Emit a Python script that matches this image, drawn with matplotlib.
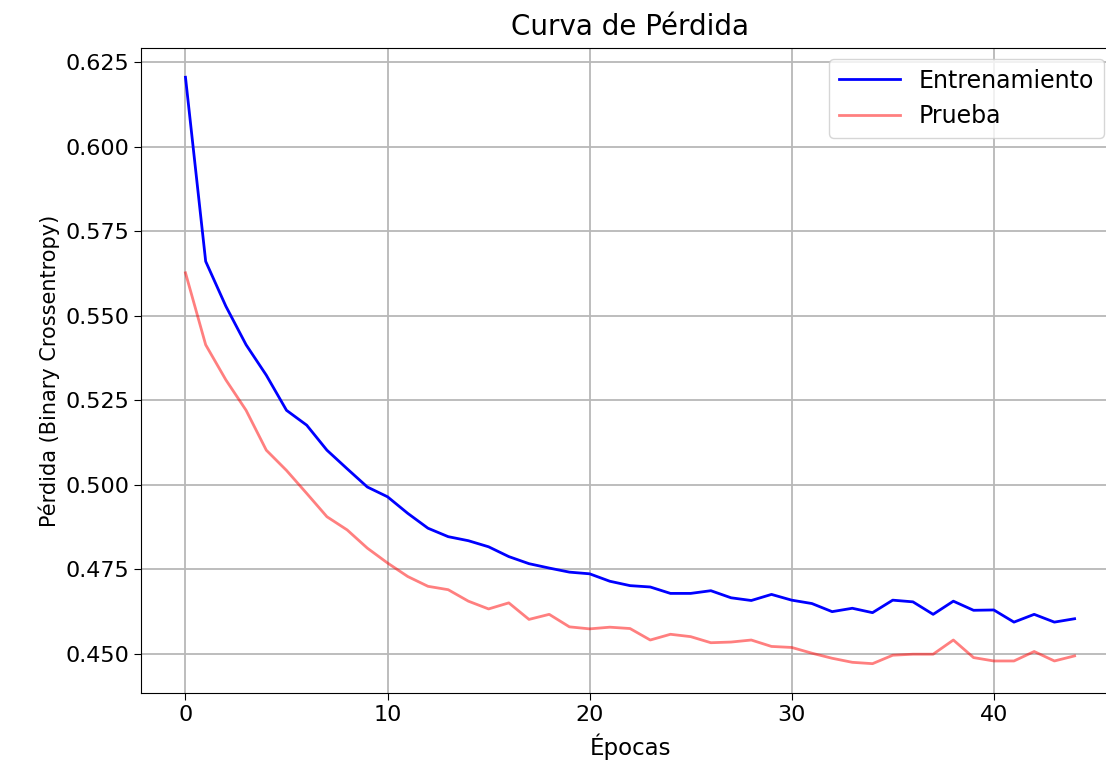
import matplotlib
matplotlib.use("Agg")
import matplotlib.pyplot as plt
import numpy as np

epochs = list(range(45))
train_loss = [0.6206, 0.5661, 0.5528, 0.5414, 0.5324, 0.5220, 0.5176, 0.5102, 0.5047, 0.4993,
              0.4964, 0.4915, 0.4871, 0.4846, 0.4834, 0.4816, 0.4787, 0.4766, 0.4753, 0.4741,
              0.4736, 0.4714, 0.4701, 0.4697, 0.4678, 0.4678, 0.4686, 0.4665, 0.4657, 0.4675,
              0.4658, 0.4648, 0.4624, 0.4634, 0.4621, 0.4658, 0.4653, 0.4616, 0.4655, 0.4628,
              0.4629, 0.4593, 0.4616, 0.4593, 0.4603]
test_loss = [0.5627, 0.5414, 0.5310, 0.5220, 0.5102, 0.5042, 0.4974, 0.4905, 0.4866, 0.4812,
             0.4768, 0.4728, 0.4699, 0.4689, 0.4655, 0.4632, 0.4650, 0.4601, 0.4616, 0.4579,
             0.4573, 0.4578, 0.4574, 0.4540, 0.4557, 0.4550, 0.4532, 0.4534, 0.4540, 0.4521,
             0.4518, 0.4501, 0.4486, 0.4474, 0.4470, 0.4495, 0.4498, 0.4498, 0.4540, 0.4488,
             0.4478, 0.4478, 0.4506, 0.4478, 0.4493]

title = "Curva de Pérdida"
xlabel = "Épocas"
ylabel = "Pérdida (Binary Crossentropy)"
labels = ["Entrenamiento", "Prueba"]

fig = plt.figure(figsize=(11.06, 7.67), dpi=100)
# the reference is cropped on the right: the axes extend slightly past the figure edge
ax = fig.add_axes([0.1275, 0.0965, 0.8843, 0.841])
ax.plot(epochs, train_loss, color="blue", lw=2.0, label=labels[0])
ax.plot(epochs, test_loss, color="red", alpha=0.5, lw=2.0, label=labels[1])
ax.set_title(title, fontsize=20, pad=9)
ax.set_xlabel(xlabel, fontsize=16.5, labelpad=6)
ax.set_ylabel(ylabel, fontsize=15)
ax.tick_params(labelsize=16, length=5)
ax.grid(True, color="#b8b8b8", lw=1.3)
ax.legend(fontsize=17, loc="upper right", handlelength=2.6,
          bbox_to_anchor=(0.998, 0.923), bbox_transform=fig.transFigure,
          borderaxespad=0)
fig.savefig("out.png", dpi=100)
